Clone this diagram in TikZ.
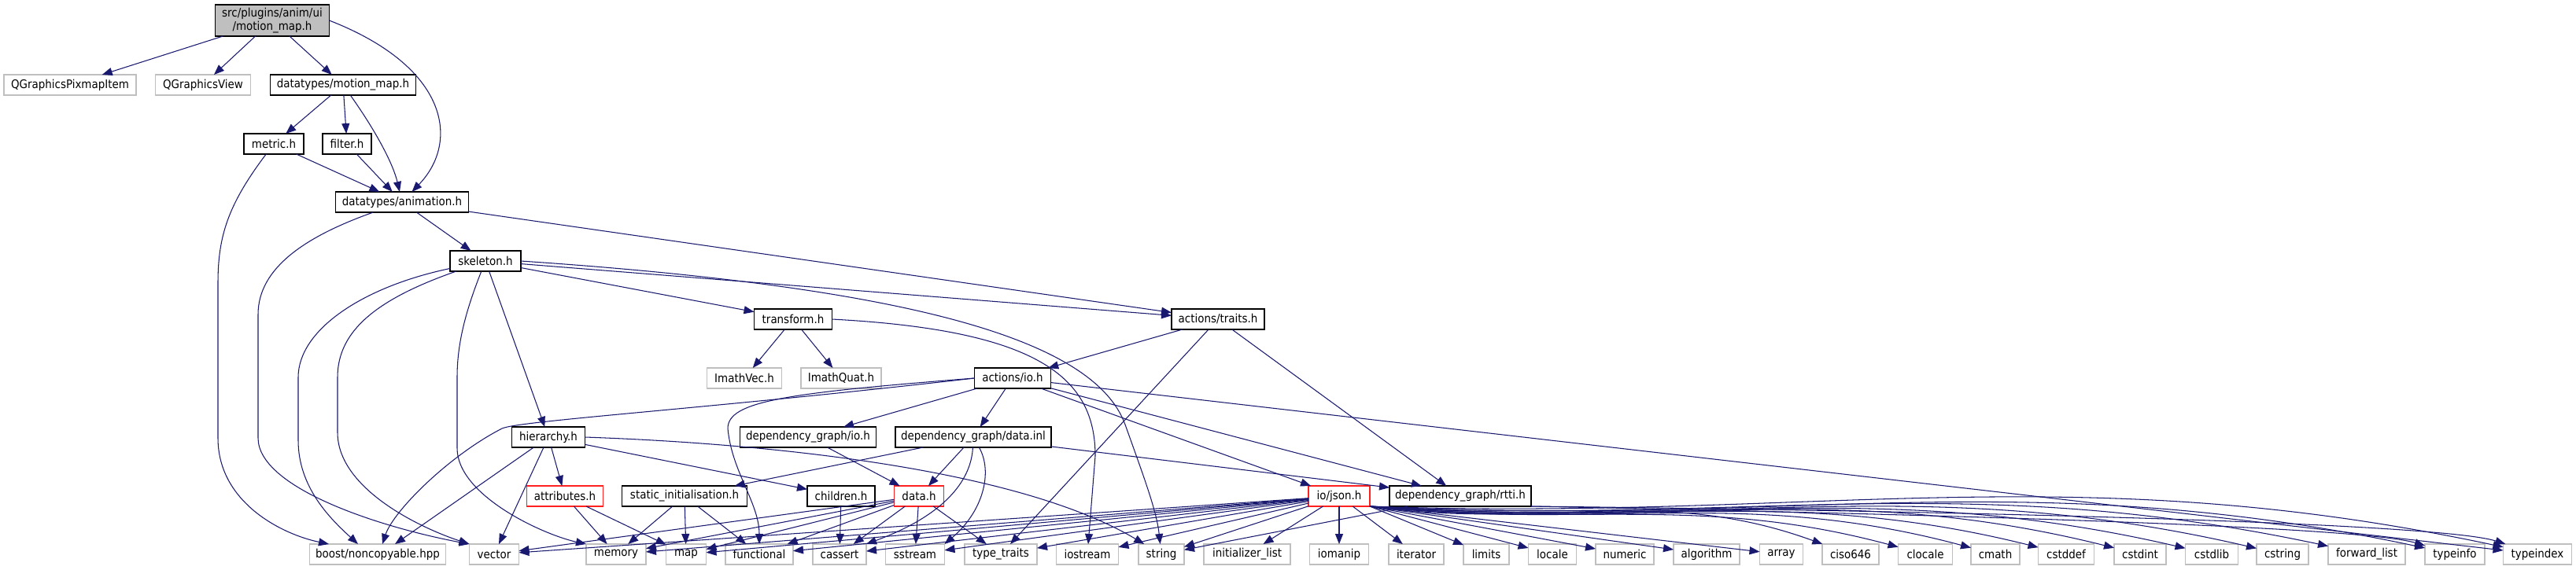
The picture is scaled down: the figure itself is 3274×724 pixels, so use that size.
\documentclass[tikz,border=0pt]{standalone}
\usepackage{fontspec}
\setmainfont{DejaVu Sans Condensed}
\usepackage{tikz}
\usetikzlibrary{arrows.meta}

\definecolor{edgeblue}{HTML}{191970}
\definecolor{boxgray}{HTML}{BFBFBF}
\definecolor{truncred}{HTML}{FF2020}

\begin{document}
\begin{tikzpicture}[x=0.02cm, y=-0.02cm,
  >={Triangle[length=0.26cm,width=0.2cm]},
  every node/.style={font=\fontsize{8.5}{10}\selectfont, minimum height=0.52cm,
    inner sep=0pt, outer sep=0pt, fill=white, line width=0.8pt},
  hdr/.style={draw=black},
  sys/.style={draw=boxgray},
  trunc/.style={draw=truncred},
  edge/.style={->, draw=edgeblue, line width=0.6pt}]

\useasboundingbox (0,0) rectangle (3274,724);

% Top file and its direct includes
\node[hdr, fill=boxgray, minimum width=2.9cm, minimum height=0.8cm, align=center] (main) at (346,26) {src/plugins/anim/ui\\/motion\_map.h};
\node[sys, minimum width=3.36cm] (qpix) at (89,108) {QGraphicsPixmapItem};
\node[sys, minimum width=2.42cm] (qview) at (258,108) {QGraphicsView};
\node[hdr, minimum width=3.7cm] (mmap) at (436,108) {datatypes/motion\_map.h};

% Project headers
\node[hdr, minimum width=1.52cm] (metric) at (348,183) {metric.h};
\node[hdr, minimum width=1.24cm] (filter) at (441,183) {filter.h};
\node[hdr, minimum width=3.38cm] (anim) at (511,257) {datatypes/animation.h};
\node[hdr, minimum width=1.8cm] (skel) at (617,332) {skeleton.h};
\node[hdr, minimum width=1.98cm] (transform) at (1008,406) {transform.h};
\node[hdr, minimum width=2.36cm] (traits) at (1548,406) {actions/traits.h};
\node[sys, minimum width=1.9cm] (ivec) at (946,481) {ImathVec.h};
\node[sys, minimum width=2.04cm] (iquat) at (1069,481) {ImathQuat.h};
\node[hdr, minimum width=1.94cm] (aio) at (1287,481) {actions/io.h};
\node[hdr, minimum width=1.86cm] (hier) at (697,556) {hierarchy.h};
\node[hdr, minimum width=3.46cm] (dgio) at (1027,556) {dependency\_graph/io.h};
\node[hdr, minimum width=3.96cm] (dgdata) at (1237,556) {dependency\_graph/data.inl};
\node[trunc, minimum width=1.94cm] (attr) at (718,631) {attributes.h};
\node[hdr, minimum width=3.18cm] (sinit) at (870,631) {static\_initialisation.h};
\node[hdr, minimum width=1.72cm] (children) at (1069,631) {children.h};
\node[trunc, minimum width=1.26cm] (data) at (1168,631) {data.h};
\node[trunc, minimum width=1.56cm] (json) at (1702,631) {io/json.h};
\node[hdr, minimum width=3.6cm] (rtti) at (1856,631) {dependency\_graph/rtti.h};

% System headers (bottom row)
\node[sys, minimum width=3.46cm] (boost) at (480,705) {boost/noncopyable.hpp};
\node[sys, minimum width=1.26cm] (vector) at (628,705) {vector};
\node[sys, minimum width=1.52cm] (memory) at (783,705) {memory};
\node[sys, minimum width=1.02cm] (map) at (872,705) {map};
\node[sys, minimum width=1.72cm] (functional) at (965,705) {functional};
\node[sys, minimum width=1.36cm] (cassert) at (1067,705) {cassert};
\node[sys, minimum width=1.5cm] (sstream) at (1163,705) {sstream};
\node[sys, minimum width=1.84cm] (typetraits) at (1272,705) {type\_traits};
\node[sys, minimum width=1.58cm] (iostream) at (1382,705) {iostream};
\node[sys, minimum width=1.16cm] (string) at (1476,705) {string};
\node[sys, minimum width=2.2cm] (initlist) at (1585,705) {initializer\_list};
\node[sys, minimum width=1.5cm] (iomanip) at (1702,705) {iomanip};
\node[sys, minimum width=1.4cm] (iterator) at (1800,705) {iterator};
\node[sys, minimum width=1.16cm] (limits) at (1889,705) {limits};
\node[sys, minimum width=1.22cm] (locale) at (1973,705) {locale};
\node[sys, minimum width=1.48cm] (numeric) at (2065,705) {numeric};
\node[sys, minimum width=1.68cm] (algorithm) at (2169,705) {algorithm};
\node[sys, minimum width=1.1cm] (array) at (2264,705) {array};
\node[sys, minimum width=1.44cm] (ciso) at (2352,705) {ciso646};
\node[sys, minimum width=1.38cm] (clocale) at (2447,705) {clocale};
\node[sys, minimum width=1.24cm] (cmath) at (2536,705) {cmath};
\node[sys, minimum width=1.42cm] (cstddef) at (2626,705) {cstddef};
\node[sys, minimum width=1.32cm] (cstdint) at (2720,705) {cstdint};
\node[sys, minimum width=1.34cm] (cstdlib) at (2811,705) {cstdlib};
\node[sys, minimum width=1.32cm] (cstring) at (2901,705) {cstring};
\node[sys, minimum width=1.96cm] (fwdlist) at (3008,705) {forward\_list};
\node[sys, minimum width=1.52cm] (typeinfo) at (3120,705) {typeinfo};
\node[sys, minimum width=1.74cm] (typeindex) at (3225,705) {typeindex};

% motion_map.h
\draw[edge] (main) -- (qpix);
\draw[edge] (main) -- (qview);
\draw[edge] (main) -- (mmap);
\draw[edge] (main.east) .. controls (570,85) and (585,180) .. (anim);

% datatypes/motion_map.h
\draw[edge] (mmap) -- (metric);
\draw[edge] (mmap) -- (filter);
\draw[edge] (mmap) .. controls (480,170) and (500,210) .. (anim);

% metric.h, filter.h
\draw[edge] (metric) -- (anim);
\draw[edge] (metric) .. controls (290,260) and (277,300) .. (277,360) -- (277,557) .. controls (277,640) and (360,680) .. ([xshift=-1.24cm]boost.north);
\draw[edge] (filter) -- (anim);

% datatypes/animation.h
\draw[edge] (anim) -- (skel);
\draw[edge] (anim) -- (traits);
\draw[edge] (anim) .. controls (390,300) and (328,340) .. (328,400) -- (328,557) .. controls (328,620) and (480,670) .. (vector.north west);

% skeleton.h
\draw[edge] (skel) -- (transform);
\draw[edge] (skel) -- (traits);
\draw[edge] (skel) -- (hier);
\draw[edge] (skel) .. controls (460,365) and (379,420) .. (379,480) -- (379,560) .. controls (379,620) and (420,660) .. ([xshift=-0.5cm]boost.north);
\draw[edge] (skel) .. controls (480,380) and (429,420) .. (429,480) -- (429,550) .. controls (429,620) and (530,670) .. (vector.north west);
\draw[edge] (skel) .. controls (590,400) and (581,440) .. (581,480) -- (581,570) .. controls (581,630) and (690,680) .. (memory.north west);
\draw[edge] (skel.east) .. controls (1150,365) and (1390,430) .. (1430,540) .. controls (1455,610) and (1470,650) .. (string);

% transform.h
\draw[edge] (transform) -- (ivec);
\draw[edge] (transform) -- (iquat);
\draw[edge] (transform.east) .. controls (1320,420) and (1392,480) .. (1392,580) -- (iostream);

% actions/traits.h
\draw[edge] (traits) -- (aio);
\draw[edge] (traits) -- (typetraits);
\draw[edge] (traits) -- (rtti);

% actions/io.h
\draw[edge] (aio) -- (dgio);
\draw[edge] (aio) -- (dgdata);
\draw[edge] (aio) -- (json);
\draw[edge] (aio) -- (rtti);
\draw[edge] (aio) -- (typeindex);
\draw[edge] (aio.west) .. controls (900,520) and (660,535) .. (638,545) .. controls (570,580) and (500,650) .. ([xshift=0.12cm]boost.north);
\draw[edge] (aio.west) .. controls (1000,500) and (925,510) .. (925,545) .. controls (930,600) and (965,640) .. (functional);

% hierarchy.h
\draw[edge] (hier) -- (attr);
\draw[edge] (hier) -- ([xshift=0.44cm]boost.north);
\draw[edge] (hier) -- (vector);
\draw[edge] (hier) -- (children);
\draw[edge] (hier.east) .. controls (1000,565) and (1300,600) .. (string);

% dependency_graph headers
\draw[edge] (dgio) -- (data);
\draw[edge] (dgdata) -- (sinit);
\draw[edge] (dgdata) -- (data);
\draw[edge] (dgdata) -- (rtti);
\draw[edge] (dgdata) .. controls (1235,600) and (1215,650) .. (cassert.north east);
\draw[edge] (dgdata) .. controls (1262,600) and (1250,650) .. (sstream.north east);

% attributes.h, static_initialisation.h, children.h
\draw[edge] (attr) -- (memory);
\draw[edge] (attr) -- (map);
\draw[edge] (sinit) -- (memory);
\draw[edge] (sinit) -- (map);
\draw[edge] (sinit) -- (functional);
\draw[edge] (children) -- (cassert);

% data.h
\draw[edge] (data) -- (vector);
\draw[edge] (data) -- (memory);
\draw[edge] (data) -- (map);
\draw[edge] (data) -- (functional);
\draw[edge] (data) -- (cassert);
\draw[edge] (data) -- (sstream);
\draw[edge] (data) -- (typetraits);

% io/json.h, left and below
\draw[edge] (json) -- (vector);
\draw[edge] (json) -- (memory);
\draw[edge] (json) -- (map);
\draw[edge] (json) -- (functional);
\draw[edge] (json) -- (cassert);
\draw[edge] (json) -- (sstream);
\draw[edge] (json) -- (typetraits);
\draw[edge] (json) -- (iostream);
\draw[edge] (json) -- (string);
\draw[edge] (json) -- (initlist);
\draw[edge] (json) -- (iomanip);
\draw[edge] (json) -- (iterator);
% io/json.h, right (under rtti.h)
\draw[edge] (json.south east) -- (limits);
\draw[edge] (json.south east) -- (locale);
\draw[edge] (json.south east) -- (numeric);
\draw[edge] (json.south east) -- (algorithm);
\draw[edge] (json.south east) -- (array);
\draw[edge] (json.south east) to[out=-8,in=160] (ciso);
\draw[edge] (json.south east) to[out=-6,in=165] (clocale);
\draw[edge] (json.south east) to[out=-6,in=165] (cmath);
\draw[edge] (json.south east) to[out=-5,in=166] (cstddef);
\draw[edge] (json.south east) to[out=-5,in=166] (cstdint);
\draw[edge] (json.south east) to[out=-4,in=167] (cstdlib);
\draw[edge] (json.south east) to[out=-4,in=167] (cstring);
\draw[edge] (json.south east) to[out=-3,in=168] (fwdlist);
\draw[edge] (json.south east) to[out=-3,in=168] (typeinfo);
\draw[edge] (json.south east) to[out=-2,in=168] (typeindex);

% dependency_graph/rtti.h
\draw[edge] (rtti) -- (string);
\draw[edge] (rtti.south east) .. controls (2500,655) and (3000,670) .. (typeinfo);
\draw[edge] (rtti.south east) .. controls (2500,650) and (3100,665) .. (typeindex);

\end{tikzpicture}
\end{document}
